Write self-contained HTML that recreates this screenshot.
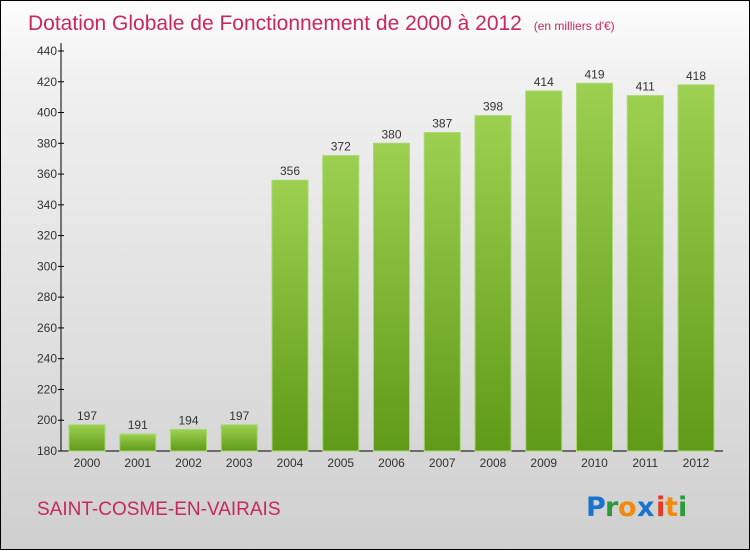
<!DOCTYPE html>
<html><head><meta charset="utf-8"><style>
body{margin:0;width:750px;height:550px;overflow:hidden;font-family:"Liberation Sans",sans-serif}
#wrap{position:absolute;left:0;top:0;width:748px;height:548px;border:1px solid #000;background:linear-gradient(#fdfdfd,#f0f0f0 15%,#dcdcdc 70%,#cfcfcf)}
</style></head><body>
<div id="wrap">
<svg width="750" height="550">
<defs><linearGradient id="g" x1="0" y1="0" x2="0" y2="1"><stop offset="0" stop-color="#9dd050"/><stop offset="1" stop-color="#5f9a18"/></linearGradient></defs>
<text x="27" y="29" font-size="21" fill="#c8285c">Dotation Globale de Fonctionnement de 2000 à 2012 <tspan font-size="12" dx="6">(en milliers d'€)</tspan></text>
<g id="axes"></g><g id="bars"></g>
<text x="36" y="514" font-size="19" fill="#c8285c">SAINT-COSME-EN-VAIRAIS</text>
<g font-size="27" font-family="'DejaVu Sans',sans-serif" font-weight="bold">
<text x="585" y="515" fill="#1874cc">P</text><text x="604" y="515" fill="#2a9a3a">r</text><text x="617" y="515" fill="#f08a10">o</text><text x="636" y="515" fill="#1874cc">x</text><text x="655" y="515" fill="#e83820">i</text><text x="664" y="515" fill="#f08a10">t</text><text x="677" y="515" fill="#2a9a3a">i</text></g>
</svg></div>
<script>
const years=["2000","2001","2002","2003","2004","2005","2006","2007","2008","2009","2010","2011","2012"];
const values=[197,191,194,197,356,372,380,387,398,414,419,411,418];
const ticks=[180,200,220,240,260,280,300,320,340,360,380,400,420,440];
const NS="http://www.w3.org/2000/svg";
const y=v=>450-(v-180)*400/260, x=i=>86+i*50.75;
function mk(t,a,p,txt){const e=document.createElementNS(NS,t);for(const k in a)e.setAttribute(k,a[k]);if(txt!=null)e.textContent=txt;p.appendChild(e);return e;}
const ax=document.getElementById('axes'),bs=document.getElementById('bars');
let l=mk('line',{x1:60,y1:42,x2:60,y2:450,stroke:'#000'},ax);


l=mk('line',{x1:60,y1:450,x2:722,y2:450,stroke:'#000'},ax);


ticks.forEach(t=>{mk('line',{x1:57,x2:63,y1:y(t),y2:y(t),stroke:'#000'},ax);
const e=mk('text',{x:56,y:y(t)+4,'text-anchor':'end','font-size':12,fill:'#333'},ax,t);

});
years.forEach((yr,i)=>{
const r=mk('rect',{x:x(i)-18,y:y(values[i]),width:36,height:450-y(values[i]),fill:'url(#g)',stroke:'#a8d870','stroke-width':1},bs);


const v=mk('text',{x:x(i),y:y(values[i])-5,'text-anchor':'middle','font-size':12,fill:'#333'},bs,values[i]);


const t=mk('text',{x:x(i),y:466,'text-anchor':'middle','font-size':12,fill:'#333'},bs,yr);

});
</script></body></html>
